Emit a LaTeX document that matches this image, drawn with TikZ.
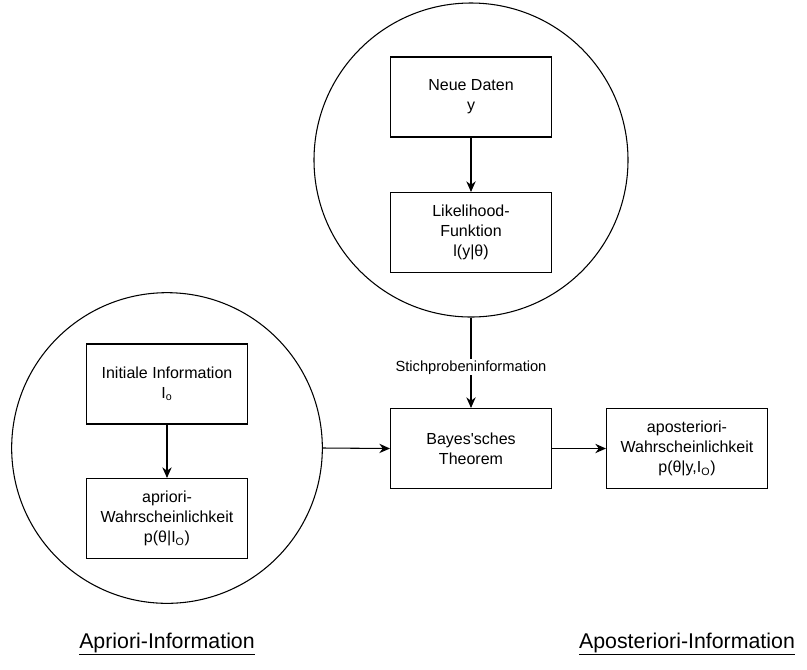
\documentclass[tikz,border=0pt]{standalone}
\usepackage{fontspec}
\setmainfont{Liberation Sans}
\usetikzlibrary{arrows.meta}
\usetikzlibrary{positioning}
\tikzset{box/.style = {draw, line width = 0.8pt, minimum width = 120.75pt, minimum height = 60pt,
                       align = center, inner sep = 1pt,
                       font = \fontsize{12}{15}\selectfont}}
\tikzset{kreis/.style = {draw, line width = 0.8pt, circle, inner sep = 0}}
\tikzset{pfeil/.style = {line width = 0.8pt, -{Stealth[length = 8pt, width = 7pt]}}}
\tikzset{titel/.style = {font = \fontsize{16}{19}\selectfont}}

\begin{document}
\begin{tikzpicture}[x = 0.75pt, y = -0.75pt]
    \useasboundingbox (0, 0) rectangle (807, 669);

    \node [kreis, minimum size = 235.5pt] (stich) at (471, 160) {};
    \node [kreis, minimum size = 233pt] (prior) at (167, 448) {};

    \node [box] (daten) at (471, 97) {Neue Daten\\y};
    \node [box] (like) at (471, 232.5) {Likelihood-\\Funktion\\l(y|θ)};
    \node [box] (init) at (167, 384) {Initiale Information\\I\textsubscript{o}};
    \node [box] (apriori) at (167, 518.5) {apriori-\\Wahrscheinlichkeit\\p(θ|I\textsubscript{O})};
    \node [box] (bayes) at (471, 448.5) {Bayes\textquotesingle sches\\Theorem};
    \node [box] (post) at (687, 448.5) {aposteriori-\\Wahrscheinlichkeit\\p(θ|y,I\textsubscript{O})};

    \draw [pfeil] (daten) -- (like);
    \draw [pfeil] (init) -- (apriori);
    \draw [pfeil] (stich.south) -- (bayes.north)
        node [pos = 0.55, fill = white, inner sep = 1pt, font = \fontsize{11}{13}\selectfont] {Stichprobeninformation};
    \draw [pfeil] (prior.east) -- (bayes.west);
    \draw [pfeil] (bayes) -- (post);

    \node [titel] (tprior) at (167, 644) {\underline{Apriori-Information}};
    \node [titel] (tpost) at (687, 644) {\underline{Aposteriori-Information}};
\end{tikzpicture}
\end{document}
